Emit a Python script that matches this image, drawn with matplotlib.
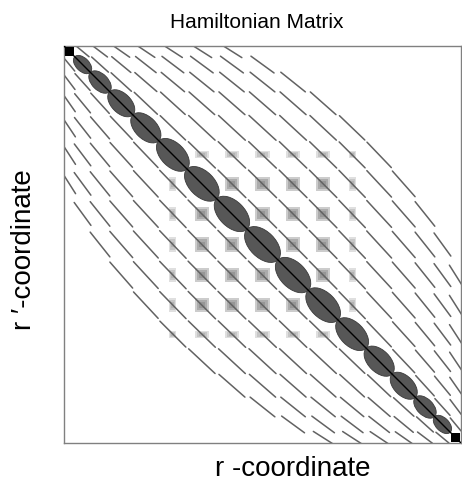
import matplotlib
matplotlib.use('Agg')
import matplotlib.pyplot as plt
from matplotlib.patches import Ellipse, Rectangle
import numpy as np

# grid points along r (box normalised to 0..1)
r_grid = [0.009, 0.045, 0.088, 0.142, 0.205, 0.2725, 0.347, 0.4225, 0.5,
          0.5775, 0.653, 0.7275, 0.795, 0.858, 0.912, 0.955, 0.991]
band_upper = 7   # off-diagonals drawn above the diagonal
band_lower = 6   # and below
# central block that carries the potential coupling (grey squares)
block = [5, 6, 7, 8, 9, 10, 11]
block_w = [0.5, 1, 1, 1, 1, 1, 0.5]

title = 'Hamiltonian Matrix'
xlabel = 'r -coordinate'
ylabel = 'r \u2032-coordinate'

plt.rcParams['font.family'] = ['Liberation Sans', 'DejaVu Sans']

fig = plt.figure(figsize=(4.62, 4.81), dpi=100)
ax = fig.add_axes([64/462, 37/481, 397/462, 397/481])
ax.set_xlim(0, 1)
ax.set_ylim(1, 0)
ax.set_xticks([])
ax.set_yticks([])
for s in ax.spines.values():
    s.set_color('#808080')
    s.set_linewidth(1.0)

n = len(r_grid)
r = np.array(r_grid)
b = np.concatenate([[0.0], (r[1:] + r[:-1]) / 2, [1.0]])

# grey squares of the central block (soft edges: a few nested layers)
sq = 0.036
for a, i in enumerate(block):
    for c, j in enumerate(block):
        if i == j:
            continue
        alpha = 0.35 * min(block_w[a], block_w[c]) + 0.12
        for f in (1.0, 0.7, 0.4):
            w = sq * block_w[c] * f
            h = sq * block_w[a] * f
            ax.add_patch(Rectangle((r[j] - w/2, r[i] - h/2), w, h,
                                   facecolor='#707070', edgecolor='none',
                                   alpha=alpha * 0.75, zorder=1))

# off-diagonal elements: one dash in each cell, leaning towards 45 deg
for i in range(n):
    for j in range(n):
        d = j - i
        if (1 <= d <= band_upper) or (1 <= -d <= band_lower):
            w = b[j+1] - b[j]
            h = b[i+1] - b[i]
            cx = (b[j] + b[j+1]) / 2
            cy = (b[i] + b[i+1]) / 2
            ang = 0.5 * (np.arctan2(h, w) + np.pi/4)
            half = 0.46 * np.sqrt(2 * w * h)
            dx, dy = half * np.cos(ang), half * np.sin(ang)
            ax.plot([cx - dx, cx + dx], [cy - dy, cy + dy],
                    color='#626262', lw=1.1, solid_capstyle='round', zorder=2)

# diagonal elements
for i in range(n):
    h = b[i+1] - b[i]
    cx = (b[i] + b[i+1]) / 2
    if i == 0 or i == n - 1:
        k = 0.8 * h
        ax.add_patch(Rectangle((cx - k/2, cx - k/2), k, k, facecolor='black',
                               edgecolor='none', zorder=3))
    else:
        L = np.sqrt(2) * h
        ax.add_patch(Ellipse((cx, cx), L, 0.6*L, angle=45,
                             facecolor='#575757', edgecolor='#3a3a3a',
                             lw=0.6, zorder=3))
ax.plot([0, 1], [0, 1], color='black', lw=1.0, zorder=4)

fig.text(257/462, 1 - 22/481, title, ha='center', va='center', fontsize=15)
fig.text(293/462, 1 - 469/481, xlabel, ha='center', va='center', fontsize=20)
fig.text(24/462, 1 - 250/481, ylabel, ha='center', va='center', fontsize=20,
         rotation=90)

fig.savefig('out.png', dpi=100)
